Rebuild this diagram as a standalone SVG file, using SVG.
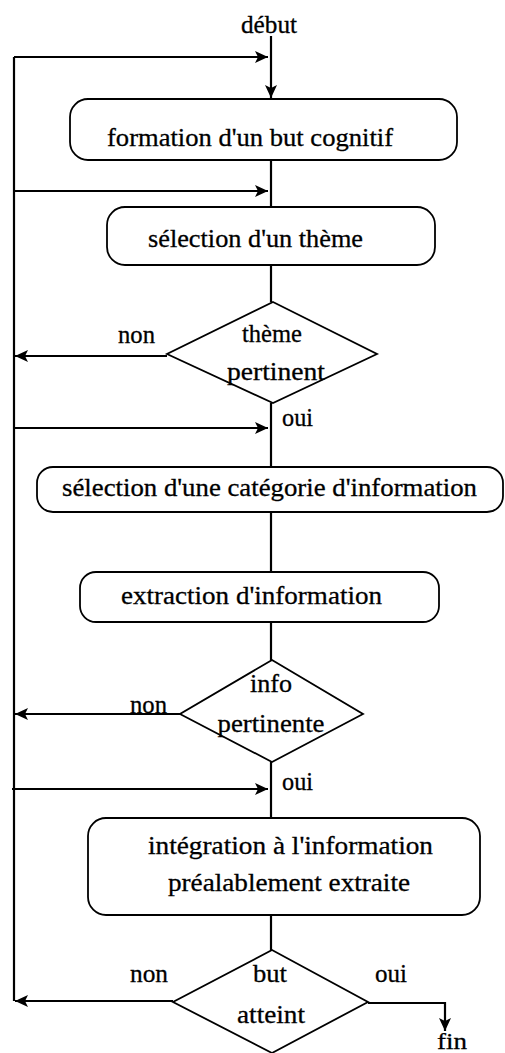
<svg xmlns="http://www.w3.org/2000/svg" width="505" height="1053" viewBox="0 0 505 1053">
<style>
.t{font-family:"Liberation Serif","DejaVu Serif",serif;font-size:26px;fill:#000;stroke:#000;stroke-width:0.3}
.box{fill:#fff;stroke:#000;stroke-width:1.8}
.dia{fill:#fff;stroke:#000;stroke-width:1.8}
.c{fill:none;stroke:#000;stroke-width:2.2}
</style>
<defs>
<marker id="ah" markerUnits="userSpaceOnUse" markerWidth="14" markerHeight="12" refX="13" refY="6" orient="auto">
<path d="M0,0 L13,6 L0,12 L3,6 z" fill="#000"/>
</marker>
</defs>
<rect width="505" height="1053" fill="#fff"/>
<g id="connectors">
<line class="c" x1="271" y1="36" x2="271" y2="98" marker-end="url(#ah)"/>
<line class="c" x1="14" y1="57" x2="14" y2="1001"/>
<line class="c" x1="14" y1="57" x2="268" y2="57" marker-end="url(#ah)"/>
<line class="c" x1="271" y1="160" x2="271" y2="207"/>
<line class="c" x1="14" y1="191" x2="268" y2="191" marker-end="url(#ah)"/>
<line class="c" x1="271" y1="265" x2="271" y2="302"/>
<line class="c" x1="167" y1="356" x2="15" y2="356" marker-end="url(#ah)"/>
<line class="c" x1="271" y1="403" x2="271" y2="467"/>
<line class="c" x1="14" y1="428" x2="268" y2="428" marker-end="url(#ah)"/>
<line class="c" x1="271" y1="512" x2="271" y2="572"/>
<line class="c" x1="271" y1="622" x2="271" y2="660"/>
<line class="c" x1="180" y1="714" x2="15" y2="714" marker-end="url(#ah)"/>
<line class="c" x1="271" y1="762" x2="271" y2="818"/>
<line class="c" x1="12" y1="789" x2="268" y2="789" marker-end="url(#ah)"/>
<line class="c" x1="271" y1="915" x2="271" y2="950"/>
<line class="c" x1="173" y1="1001" x2="15" y2="1001" marker-end="url(#ah)"/>
<polyline class="c" points="368,1003 445,1003 445,1031" marker-end="url(#ah)"/>
</g>
<g id="debut"><text class="t" x="269" y="33" text-anchor="middle" textLength="56" lengthAdjust="spacingAndGlyphs">début</text></g>
<g id="n1">
<rect class="box" x="70" y="99" width="387" height="61" rx="18"/>
<text class="t" x="107" y="146" textLength="286" lengthAdjust="spacingAndGlyphs">formation d'un but cognitif</text>
</g>
<g id="n2">
<rect class="box" x="107" y="207" width="328" height="58" rx="18"/>
<text class="t" x="148" y="247" textLength="215" lengthAdjust="spacingAndGlyphs">sélection d'un thème</text>
</g>
<g id="d1">
<polygon class="dia" points="273,302 377,354 273,403 167,354"/>
<text class="t" x="272" y="342" text-anchor="middle" textLength="60" lengthAdjust="spacingAndGlyphs">thème</text>
<text class="t" x="276" y="380" text-anchor="middle" textLength="98" lengthAdjust="spacingAndGlyphs">pertinent</text>
<text class="t" x="118" y="343" textLength="37" lengthAdjust="spacingAndGlyphs">non</text>
<text class="t" x="282" y="426" textLength="31" lengthAdjust="spacingAndGlyphs">oui</text>
</g>
<g id="n3">
<rect class="box" x="37" y="467" width="466" height="45" rx="16"/>
<text class="t" x="62" y="496" textLength="415" lengthAdjust="spacingAndGlyphs">sélection d'une catégorie d'information</text>
</g>
<g id="n4">
<rect class="box" x="80" y="572" width="359" height="50" rx="16"/>
<text class="t" x="121" y="604" textLength="261" lengthAdjust="spacingAndGlyphs">extraction d'information</text>
</g>
<g id="d2">
<polygon class="dia" points="272,660 363,714 272,762 180,714"/>
<text class="t" x="271" y="692" text-anchor="middle" textLength="42" lengthAdjust="spacingAndGlyphs">info</text>
<text class="t" x="271" y="732" text-anchor="middle" textLength="107" lengthAdjust="spacingAndGlyphs">pertinente</text>
<text class="t" x="130" y="713" textLength="37" lengthAdjust="spacingAndGlyphs">non</text>
<text class="t" x="282" y="790" textLength="31" lengthAdjust="spacingAndGlyphs">oui</text>
</g>
<g id="n5">
<rect class="box" x="88" y="818" width="392" height="97" rx="18"/>
<text class="t" x="148" y="854" textLength="285" lengthAdjust="spacingAndGlyphs">intégration à l'information</text>
<text class="t" x="168" y="891" textLength="242" lengthAdjust="spacingAndGlyphs">préalablement extraite</text>
</g>
<g id="d3">
<polygon class="dia" points="272,950 368,1002 272,1053 173,1002"/>
<text class="t" x="270" y="982" text-anchor="middle" textLength="34" lengthAdjust="spacingAndGlyphs">but</text>
<text class="t" x="271" y="1023" text-anchor="middle" textLength="68" lengthAdjust="spacingAndGlyphs">atteint</text>
<text class="t" x="130" y="982" textLength="38" lengthAdjust="spacingAndGlyphs">non</text>
<text class="t" x="375" y="982" textLength="32" lengthAdjust="spacingAndGlyphs">oui</text>
</g>
<g id="fin"><text class="t" x="437" y="1049" textLength="30" lengthAdjust="spacingAndGlyphs" style="font-size:24px">fin</text></g>
</svg>
